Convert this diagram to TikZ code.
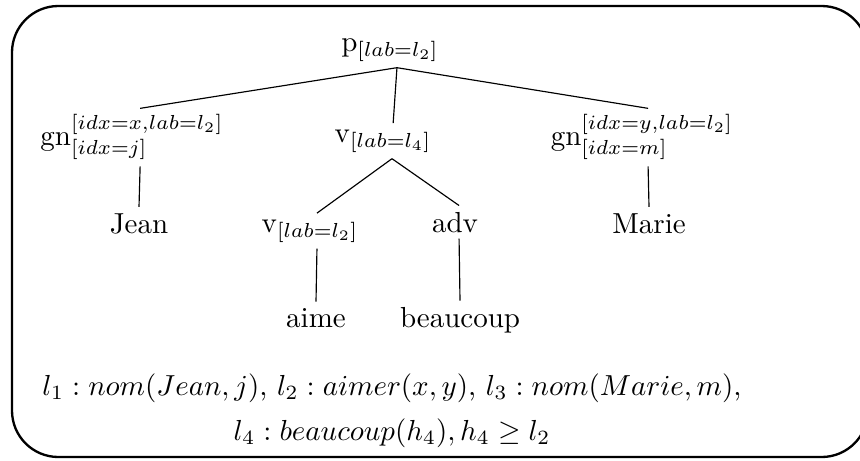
\documentclass[tikz,border=0pt]{standalone}
\usepackage{amsmath,amssymb}
\usepackage{tikz}

\begin{document}
\begin{tikzpicture}[
      x=0.345pt, y=-0.345pt,
      lbl/.style={anchor=base,inner sep=2pt},
      frame/.style={draw,thick,rounded corners=16pt},
      br/.style={line width=0.4pt}]
    \useasboundingbox (0,0) rectangle (860,460);
    \draw[frame] (12,6) rectangle (868,457);

    \node[lbl] (root) at (390,51) {p$_{[lab=l_2]}$};
    \node[lbl] (gnjean) at (132,145) {gn$^{[idx=x,lab=l_2]}_{[idx=j]}$};
    \node[lbl] (vmod) at (383,142) {v$_{[lab=l_4]}$};
    \node[lbl] (gnmarie) at (642,145) {gn$^{[idx=y,lab=l_2]}_{[idx=m]}$};
    \draw[br] ([xshift=2.4pt]root.south) -- ([xshift=2.8pt]gnjean.north);
    \draw[br] ([xshift=2.4pt]root.south) -- ([xshift=3.5pt]vmod.north);
    \draw[br] ([xshift=2.4pt]root.south) -- ([xshift=2.1pt]gnmarie.north);

    \node[lbl] (jean) at (139,233) {Jean};
    \node[lbl] (vverb) at (310,232) {v$_{[lab=l_2]}$};
    \node[lbl] (adv) at (455,232) {adv};
    \node[lbl] (marie) at (649,233) {Marie};
    \draw[br] ([xshift=2.8pt]gnjean.south) -- (jean.north);
    \draw[br] ([xshift=3.1pt]vmod.south) -- ([xshift=2.4pt]vverb.north);
    \draw[br] ([xshift=3.1pt]vmod.south) -- ([xshift=1.4pt]adv.north);
    \draw[br] ([xshift=2.1pt]gnmarie.south) -- (marie.north);

    \node[lbl] (aime) at (316,327) {aime};
    \node[lbl] (beaucoup) at (460,327) {beaucoup};
    \draw[br] ([xshift=2.4pt]vverb.south) -- (aime.north);
    \draw[br] ([xshift=1.4pt]adv.south) -- (beaucoup.north);

    % semantics
    \node[inner sep=2pt,anchor=north,align=center] (sem) at (392,367)
      {$l_1 : nom(Jean, j)$, $l_2 : aimer(x, y)$, $l_3 : nom(Marie, m)$,\\[3.5pt]
       $l_4 : beaucoup(h_4), h_4 \geq l_2$};
  \end{tikzpicture}
\end{document}
